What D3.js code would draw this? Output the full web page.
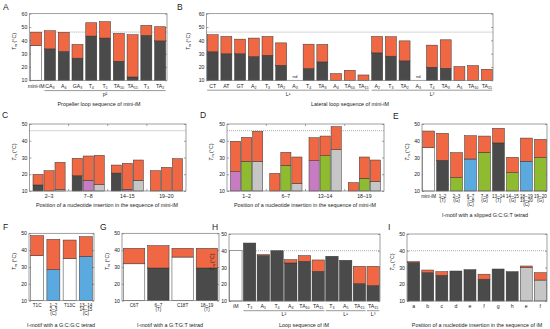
<!DOCTYPE html>
<html><head><meta charset="utf-8">
<script src="https://cdn.jsdelivr.net/npm/d3@7"></script>
<style>body{margin:0;background:#fff} text{font-family:"Liberation Sans",Arial,sans-serif;fill:#222}</style>
</head><body><svg id="c" width="550" height="329"></svg>
<script>
// ---------- DATA ----------
const ticks60 = [10,20,30,40,50,60];
const ticks50 = [10,20,30,40,50];

const aLabels = ["mini-iM","CA_3","A_4","GA_3","T_4","T_5","TA_10","TA_15","T_3","TA_2"];
const aBase   = [36.2,33.6,31.6,26.6,43.2,41.7,24.3,12.5,43.7,39.6];
const aTop    = [46.2,47.2,46.0,36.9,53.2,54.0,45.2,44.2,51.2,50.2];
const aKind   = ["white","dark","dark","dark","dark","dark","dark","dark","dark","dark"];

const bLabels = ["CT","AT","GT","A_2","T_3","TA_2","A_3","T_4","TA_3","A_4","TA_10","TA_15","A_2","T_3","TA_2","A_3","T_4","TA_3","A_4","TA_10","TA_15"];
const bTop    = [44.2,42.9,40.9,41.7,42.9,38.1,null,37.1,36.9,15.0,17.5,14.0,42.9,42.7,39.6,null,36.4,40.4,20.3,21.0,18.3];
const bBase   = [31.4,29.9,29.9,27.8,28.8,21.3,null,18.8,23.8,null,null,null,30.6,28.1,24.6,null,19.8,19.0,null,null,null];

const cGroups = ["2–3","7–8","14–15","19–20"];
const cTop    = [[19.9,22.1,27.1],[29.5,30.9,31.3],[25.5,26.5,28.5],[22.1,24.1,29.3]];
const cBase   = [[13.6,null,11.0],[19.1,16.4,13.8],[20.7,11.0,16.4],[null,null,null]];
const cKinds  = ["dark","purple","gray"];

const dGroups = ["1–2","6–7","13–14","18–19"];
const dTop    = [[39.7,42.0,45.6],[20.5,33.1,30.3],[41.8,42.8,48.4],[15.0,30.3,28.5]];
const dBase   = [[21.5,27.7,27.7],[null,25.3,14.6],[28.1,31.1,34.7],[null,17.6,15.8]];
const dKinds  = ["purple","green","gray"];

const eLabels = [["mini-iM"],["1–2","(T)"],["2–3","(G)"],["6–7","7–8","(C)"],["7–8","(G)"],["13–14","(T)"],["14–15","(G)"],["18–19","19–20","(C)"],["19–20","(G)"]];
const eTop    = [45.8,44.4,32.9,43.0,42.8,47.4,30.1,41.6,40.8];
const eBase   = [35.9,28.3,18.0,29.1,33.1,38.7,20.9,27.7,29.9];
const eKind   = ["white","dark","green","blue","green","dark","green","blue","green"];

const fLabels = [["T1C"],["1–2","2–3","(C)"],["T13C"],["13–14","14–15","(C)"]];
const fTop    = [48.6,46.4,46.0,48.0];
const fBase   = [36.7,28.4,34.9,36.3];
const fKind   = ["white","blue","white","blue"];

const gLabels = [["C6T"],["6–7","(T)"],["C18T"],["18–19","(T)"]];
const gTop    = [41.1,42.7,41.1,41.1];
const gBase   = [31.9,29.4,35.9,29.4];
const gKind   = ["white","dark","white","dark"];

const hLabels = ["iM","T_3","A_5","T_4","A_4","TA_10","TA_15","T_3","A_5","TA_15","TA_15"];
const hBase   = [40.0,44.6,37.1,40.0,32.7,33.7,27.7,36.7,34.3,20.3,19.2];
const hTop    = [40.0,44.6,37.7,40.0,34.7,37.1,34.5,36.7,34.3,30.7,30.7];
const hKind   = ["white","dark","dark","dark","dark","dark","dark","dark","dark","dark","dark"];

const iLabels = ["a","b","c","d","e","f","g","h","e","f"];
const iBase   = [32.9,26.9,25.3,27.9,28.7,23.0,29.1,27.5,29.9,22.5];
const iTop    = [33.5,28.5,27.5,27.9,28.7,26.0,29.1,27.5,30.9,26.9];
const iKind   = ["dark","dark","dark","dark","dark","dark","dark","dark","gray","gray"];

// ---------- STYLE ----------
const COL = {orange:"#EF6843", dark:"#4A4A4A", white:"#FFFFFF", purple:"#C77CC2", green:"#8EBB2F", gray:"#C6C6C6", blue:"#5AAADF"};
const svg = d3.select("#c");

function rich(sel, str, fs){
  const parts = str.split("_");
  sel.text(null);
  sel.append("tspan").text(parts[0]);
  if(parts.length>1){
    sel.append("tspan").attr("font-size",fs*0.7).attr("dy",fs*0.25).text(parts[1]);
  }
}

function frame(p){
  const g = svg.append("g");
  const y = d3.scaleLinear().domain(p.domain).range([p.y1,p.y0]);
  // left axis
  const la = g.append("g").attr("transform",`translate(${p.x0},0)`)
    .call(d3.axisLeft(y).tickValues(p.ticks).tickSize(-2).tickSizeOuter(0).tickPadding(2));
  la.select(".domain").remove();
  la.selectAll("line").attr("stroke","#666").attr("stroke-width",0.6);
  la.selectAll("text").attr("font-size",5.2).style("fill","#222");
  const ra = g.append("g").attr("transform",`translate(${p.x1},0)`)
    .call(d3.axisRight(y).tickValues(p.ticks).tickSize(-2).tickSizeOuter(0).tickFormat(""));
  ra.select(".domain").remove();
  ra.selectAll("line").attr("stroke","#666").attr("stroke-width",0.6);
  // y title
  const ty = p.y0 + (p.y1-p.y0)*0.42;
  const t = g.append("text").attr("transform",`translate(${p.titleX},${ty}) rotate(-90)`)
    .attr("text-anchor","middle").attr("font-size",5.2);
  t.append("tspan").attr("font-style","italic").text("T");
  t.append("tspan").attr("font-size",3.8).attr("dy",1.3).text("m");
  t.append("tspan").attr("dy",-1.3).text(" (°C)");
  // letter
  svg.append("text").attr("x",p.lx).attr("y",p.ly).attr("font-size",8.5).text(p.letter);
  // x title
  svg.append("text").attr("x",p.xlx).attr("y",p.xly).attr("text-anchor","middle").attr("font-size",5.4).text(p.xlabel);
  return {g,y};
}

function dashed(g,y,x0,x1,v){
  g.append("line").attr("x1",x0).attr("x2",x1).attr("y1",y(v)).attr("y2",y(v))
    .attr("stroke","#888").attr("stroke-width",0.7).attr("stroke-dasharray","1,1");
}

function bar(g,y,x,w,top,base,kind){
  if(top==null) return;
  const y10 = y(10);
  if(base!=null){
    g.append("rect").attr("x",x).attr("y",y(base)).attr("width",w).attr("height",y10-y(base))
      .attr("fill",COL[kind]).attr("stroke","#333").attr("stroke-width",0.5);
  }
  const b = base==null?10:base;
  if(top>b){
    g.append("rect").attr("x",x).attr("y",y(top)).attr("width",w).attr("height",y(b)-y(top))
      .attr("fill",COL.orange).attr("stroke","#333").attr("stroke-width",0.5);
  }
}

function border(g,p){
  g.append("rect").attr("x",p.x0).attr("y",p.y0).attr("width",p.x1-p.x0).attr("height",p.y1-p.y0)
    .attr("fill","none").attr("stroke","#777").attr("stroke-width",0.7);
}

function simplePanel(p){
  const {g,y} = frame(p);
  const x = d3.scaleBand().domain(d3.range(p.labels.length)).range([p.x0,p.x1]).paddingInner(p.pi).paddingOuter(p.po);
  if(p.dash) dashed(g,y,p.dashFrom!=null? x(p.dashFrom)+x.bandwidth(): p.x0, p.x1, p.dash);
  p.labels.forEach((l,i)=>{
    bar(g,y,x(i),x.bandwidth(),p.top[i],p.base[i],p.kind[i]);
    const cx = x(i)+x.bandwidth()/2;
    const lines = Array.isArray(l)?l:[l];
    lines.forEach((s,j)=>{
      const t = g.append("text").attr("x",cx).attr("y",p.lyb + j*4.1).attr("text-anchor","middle")
        .attr("font-size",lines.length>1||Array.isArray(l)?4.6:5.2);
      rich(t,s,5.2);
    });
    if(p.top[i]==null){
      g.append("text").attr("x",cx).attr("y",y(10)-2).attr("text-anchor","middle").attr("font-size",4.2).text("nd");
    }
  });
  (p.groups||[]).forEach(gr=>{
    const a = x(gr[0]), b = x(gr[1])+x.bandwidth();
    g.append("line").attr("x1",a).attr("x2",b).attr("y1",p.gly).attr("y2",p.gly).attr("stroke","#333").attr("stroke-width",0.5);
    g.append("text").attr("x",(a+b)/2).attr("y",p.gly+5.6).attr("text-anchor","middle").attr("font-size",5.2).text(gr[2]);
  });
  border(g,p);
}

function groupPanel(p){
  const {g,y} = frame(p);
  const xg = d3.scaleBand().domain(d3.range(p.groups.length)).range([p.x0,p.x1]);
  const xb = d3.scaleBand().domain([0,1,2]).range([3.5,xg.bandwidth()-3.5]).paddingInner(0.08);
  dashed(g,y,p.x0,p.x1,p.dash);
  p.groups.forEach((gn,i)=>{
    [0,1,2].forEach(k=>bar(g,y,xg(i)+xb(k),xb.bandwidth(),p.top[i][k],p.base[i][k],p.kinds[k]));
    g.append("text").attr("x",xg(i)+xg.bandwidth()/2).attr("y",p.lyb).attr("text-anchor","middle").attr("font-size",5.2).text(gn);
    if(i>0){
      const bx = xg(i);
      g.append("line").attr("x1",bx).attr("x2",bx).attr("y1",p.y0).attr("y2",p.y0+2).attr("stroke","#666").attr("stroke-width",0.6);
      g.append("line").attr("x1",bx).attr("x2",bx).attr("y1",p.y1).attr("y2",p.y1-2).attr("stroke","#666").attr("stroke-width",0.6);
    }
  });
  border(g,p);
}

// ---------- PANELS ----------
simplePanel({x0:29.3,x1:167,y0:13.7,y1:80.3,domain:[10,60],ticks:ticks60,titleX:16,letter:"A",lx:3,ly:9.5,
  xlabel:"Propeller loop sequence of mini-iM",xlx:99,xly:106,labels:aLabels,top:aTop,base:aBase,kind:aKind,
  pi:0.2,po:0.1,dash:46.2,dashFrom:0,lyb:87.6,groups:[[1,9,"p²"]],gly:90.6});

simplePanel({x0:206.5,x1:493,y0:13.7,y1:80.3,domain:[10,60],ticks:ticks60,titleX:190,letter:"B",lx:177,ly:9.5,
  xlabel:"Lateral loop sequence of mini-iM",xlx:350,xly:106,labels:bLabels,top:bTop,base:bBase,kind:bLabels.map(()=>"dark"),
  pi:0.2,po:0.05,dash:46.2,lyb:87.6,groups:[[0,11,"L¹"],[12,20,"L³"]],gly:90.2});

groupPanel({x0:29.5,x1:186,y0:124,y1:191,domain:[10,50],ticks:ticks50,titleX:16,letter:"C",lx:2,ly:117.5,
  xlabel:"Position of a nucleotide insertion in the sequence of mini-iM",xlx:107,xly:207,
  groups:cGroups,top:cTop,base:cBase,kinds:cKinds,dash:46,lyb:198});

groupPanel({x0:227,x1:384,y0:124,y1:191,domain:[10,50],ticks:ticks50,titleX:213,letter:"D",lx:200,ly:117.5,
  xlabel:"Position of a nucleotide insertion in the sequence of mini-iM",xlx:305,xly:207,
  groups:dGroups,top:dTop,base:dBase,kinds:dKinds,dash:46,lyb:198});

simplePanel({x0:422,x1:547,y0:124,y1:191,domain:[10,50],ticks:ticks50,titleX:409,letter:"E",lx:393,ly:119,
  xlabel:"I-motif with a slipped G:C:G:T tetrad",xlx:485,xly:216.5,labels:eLabels,top:eTop,base:eBase,kind:eKind,
  pi:0.15,po:0.05,lyb:197.5});

simplePanel({x0:29,x1:94,y0:233.3,y1:300.7,domain:[10,50],ticks:ticks50,titleX:16,letter:"F",lx:3,ly:229.5,
  xlabel:"I-motif with a G:C:G:C tetrad",xlx:61,xly:326.5,labels:fLabels,top:fTop,base:fBase,kind:fKind,
  pi:0.2,po:0.1,lyb:306.5});

simplePanel({x0:122,x1:219,y0:233.3,y1:300.7,domain:[10,50],ticks:ticks50,titleX:109,letter:"G",lx:100,ly:230,
  xlabel:"I-motif with a G:T:G:T tetrad",xlx:170,xly:326.5,labels:gLabels,top:gTop,base:gBase,kind:gKind,
  pi:0.12,po:0.06,lyb:306.5});

simplePanel({x0:229,x1:380,y0:234,y1:301,domain:[10,50],ticks:ticks50,titleX:214,letter:"H",lx:212,ly:230,
  xlabel:"Loop sequence of iM",xlx:304,xly:326.5,labels:hLabels,top:hTop,base:hBase,kind:hKind,
  pi:0.1,po:0.05,dash:40,dashFrom:0,lyb:307.5,groups:[[1,6,"L²"],[7,9,"L¹"],[10,10,"L³"]],gly:310.7});

simplePanel({x0:407,x1:547,y0:234,y1:301,domain:[10,50],ticks:ticks50,titleX:394,letter:"I",lx:388,ly:230,
  xlabel:"Position of a nucleotide insertion in the sequence of iM",xlx:477,xly:326.5,labels:iLabels,top:iTop,base:iBase,kind:iKind,
  pi:0.15,po:0.05,dash:40,lyb:307.5});
</script></body></html>
